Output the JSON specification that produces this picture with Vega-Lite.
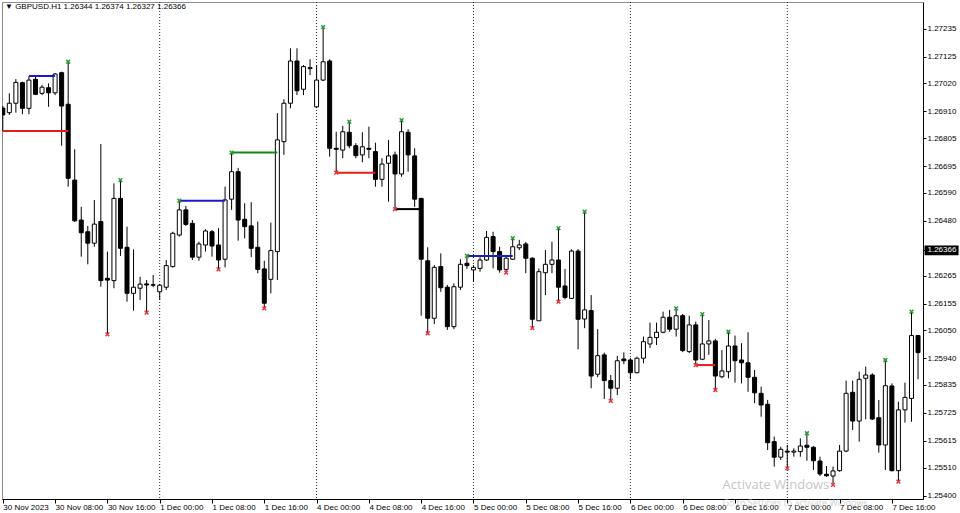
{
  "$schema": "https://vega.github.io/schema/vega-lite/v6.json",
  "width": 921,
  "height": 497,
  "autosize": {"type": "none"},
  "padding": {"left": 2, "top": 2, "right": 37, "bottom": 14},
  "background": "white",
  "config": {
    "view": {"stroke": "#8c8c8c", "strokeWidth": 1},
    "font": "Liberation Sans",
    "axis": {"labelOverlap": false, "labelFlush": false, "labelSeparation": 0},
    "scale": {"continuousPadding": 0}
  },
  "title": {
    "text": "▼ GBPUSD.H1  1.26344 1.26374 1.26327 1.26366",
    "anchor": "start",
    "frame": "group",
    "orient": "top",
    "offset": 0,
    "dx": 3,
    "dy": 9,
    "font": "Liberation Sans",
    "fontSize": 8,
    "fontWeight": "normal",
    "color": "black"
  },
  "datasets": {
    "candles": [
      {"i":0,"o":1.26923,"h":1.26931,"l":1.26833,"c":1.26896},
      {"i":1,"o":1.26905,"h":1.26981,"l":1.26896,"c":1.26942},
      {"i":2,"o":1.26942,"h":1.27037,"l":1.26905,"c":1.27024},
      {"i":3,"o":1.27023,"h":1.27027,"l":1.26899,"c":1.26922},
      {"i":4,"o":1.26922,"h":1.27049,"l":1.26899,"c":1.27033},
      {"i":5,"o":1.27036,"h":1.27049,"l":1.26974,"c":1.26977},
      {"i":6,"o":1.26981,"h":1.27014,"l":1.26974,"c":1.27005},
      {"i":7,"o":1.27003,"h":1.27020,"l":1.26928,"c":1.26983},
      {"i":8,"o":1.26983,"h":1.27061,"l":1.26974,"c":1.27057},
      {"i":9,"o":1.27062,"h":1.27066,"l":1.26775,"c":1.26931},
      {"i":10,"o":1.26938,"h":1.27105,"l":1.26614,"c":1.26647},
      {"i":11,"o":1.26640,"h":1.26761,"l":1.26475,"c":1.26480},
      {"i":12,"o":1.26483,"h":1.26535,"l":1.26339,"c":1.26433},
      {"i":13,"o":1.26437,"h":1.26460,"l":1.26309,"c":1.26392},
      {"i":14,"o":1.26392,"h":1.26562,"l":1.26378,"c":1.26467},
      {"i":15,"o":1.26477,"h":1.26782,"l":1.26221,"c":1.26245},
      {"i":16,"o":1.26254,"h":1.26359,"l":1.26034,"c":1.26247},
      {"i":17,"o":1.26245,"h":1.26627,"l":1.26215,"c":1.26568},
      {"i":18,"o":1.26568,"h":1.26640,"l":1.26342,"c":1.26372},
      {"i":19,"o":1.26376,"h":1.26457,"l":1.26162,"c":1.26195},
      {"i":20,"o":1.26195,"h":1.26368,"l":1.26127,"c":1.26219},
      {"i":21,"o":1.26215,"h":1.26260,"l":1.26169,"c":1.26231},
      {"i":22,"o":1.26232,"h":1.26247,"l":1.26119,"c":1.26228},
      {"i":23,"o":1.26229,"h":1.26267,"l":1.26219,"c":1.26227},
      {"i":24,"o":1.26201,"h":1.26232,"l":1.26169,"c":1.26227},
      {"i":25,"o":1.26219,"h":1.26326,"l":1.26208,"c":1.26304},
      {"i":26,"o":1.26300,"h":1.26437,"l":1.26297,"c":1.26431},
      {"i":27,"o":1.26424,"h":1.26559,"l":1.26418,"c":1.26523},
      {"i":28,"o":1.26523,"h":1.26538,"l":1.26460,"c":1.26466},
      {"i":29,"o":1.26470,"h":1.26483,"l":1.26326,"c":1.26337},
      {"i":30,"o":1.26337,"h":1.26398,"l":1.26323,"c":1.26389},
      {"i":31,"o":1.26385,"h":1.26447,"l":1.26359,"c":1.26440},
      {"i":32,"o":1.26437,"h":1.26444,"l":1.26339,"c":1.26381},
      {"i":33,"o":1.26385,"h":1.26451,"l":1.26289,"c":1.26326},
      {"i":34,"o":1.26329,"h":1.26614,"l":1.26297,"c":1.26562},
      {"i":35,"o":1.26565,"h":1.26748,"l":1.26523,"c":1.26673},
      {"i":36,"o":1.26673,"h":1.26688,"l":1.26402,"c":1.26483},
      {"i":37,"o":1.26486,"h":1.26549,"l":1.26411,"c":1.26457},
      {"i":38,"o":1.26460,"h":1.26553,"l":1.26337,"c":1.26372},
      {"i":39,"o":1.26376,"h":1.26477,"l":1.26274,"c":1.26289},
      {"i":40,"o":1.26291,"h":1.26323,"l":1.26136,"c":1.26156},
      {"i":41,"o":1.26250,"h":1.26473,"l":1.26195,"c":1.26363},
      {"i":42,"o":1.26359,"h":1.26903,"l":1.26247,"c":1.26798},
      {"i":43,"o":1.26791,"h":1.26958,"l":1.26739,"c":1.26942},
      {"i":44,"o":1.26942,"h":1.27158,"l":1.26922,"c":1.27108},
      {"i":45,"o":1.27108,"h":1.27158,"l":1.26974,"c":1.26991},
      {"i":46,"o":1.26997,"h":1.27092,"l":1.26974,"c":1.27086},
      {"i":47,"o":1.27078,"h":1.27115,"l":1.27053,"c":1.27082},
      {"i":48,"o":1.26928,"h":1.27092,"l":1.26923,"c":1.27033},
      {"i":49,"o":1.27033,"h":1.27238,"l":1.27029,"c":1.27105},
      {"i":50,"o":1.27108,"h":1.27115,"l":1.26732,"c":1.26765},
      {"i":51,"o":1.26765,"h":1.26830,"l":1.26669,"c":1.26761},
      {"i":52,"o":1.26758,"h":1.26853,"l":1.26726,"c":1.26830},
      {"i":53,"o":1.26828,"h":1.26870,"l":1.26765,"c":1.26775},
      {"i":54,"o":1.26775,"h":1.26785,"l":1.26726,"c":1.26736},
      {"i":55,"o":1.26739,"h":1.26828,"l":1.26710,"c":1.26771},
      {"i":56,"o":1.26765,"h":1.26850,"l":1.26726,"c":1.26761},
      {"i":57,"o":1.26752,"h":1.26787,"l":1.26614,"c":1.26643},
      {"i":58,"o":1.26643,"h":1.26726,"l":1.26614,"c":1.26703},
      {"i":59,"o":1.26706,"h":1.26798,"l":1.26555,"c":1.26735},
      {"i":60,"o":1.26739,"h":1.26752,"l":1.26526,"c":1.26664},
      {"i":61,"o":1.26664,"h":1.26876,"l":1.26653,"c":1.26830},
      {"i":62,"o":1.26828,"h":1.26840,"l":1.26673,"c":1.26739},
      {"i":63,"o":1.26735,"h":1.26765,"l":1.26535,"c":1.26565},
      {"i":64,"o":1.26568,"h":1.26570,"l":1.26107,"c":1.26329},
      {"i":65,"o":1.26323,"h":1.26376,"l":1.26038,"c":1.26097},
      {"i":66,"o":1.26097,"h":1.26306,"l":1.26074,"c":1.26297},
      {"i":67,"o":1.26300,"h":1.26352,"l":1.26201,"c":1.26217},
      {"i":68,"o":1.26219,"h":1.26228,"l":1.26051,"c":1.26064},
      {"i":69,"o":1.26064,"h":1.26234,"l":1.26054,"c":1.26221},
      {"i":70,"o":1.26219,"h":1.26329,"l":1.26208,"c":1.26309},
      {"i":71,"o":1.26313,"h":1.26342,"l":1.26291,"c":1.26304},
      {"i":72,"o":1.26287,"h":1.26306,"l":1.26241,"c":1.26297},
      {"i":73,"o":1.26293,"h":1.26337,"l":1.26280,"c":1.26326},
      {"i":74,"o":1.26326,"h":1.26440,"l":1.26322,"c":1.26415},
      {"i":75,"o":1.26418,"h":1.26437,"l":1.26293,"c":1.26359},
      {"i":76,"o":1.26359,"h":1.26378,"l":1.26276,"c":1.26287},
      {"i":77,"o":1.26289,"h":1.26346,"l":1.26276,"c":1.26333},
      {"i":78,"o":1.26329,"h":1.26412,"l":1.26326,"c":1.26378},
      {"i":79,"o":1.26374,"h":1.26405,"l":1.26365,"c":1.26385},
      {"i":80,"o":1.26389,"h":1.26397,"l":1.26274,"c":1.26333},
      {"i":81,"o":1.26333,"h":1.26337,"l":1.26058,"c":1.26093},
      {"i":82,"o":1.26087,"h":1.26293,"l":1.26086,"c":1.26280},
      {"i":83,"o":1.26276,"h":1.26365,"l":1.26188,"c":1.26309},
      {"i":84,"o":1.26309,"h":1.26398,"l":1.26274,"c":1.26326},
      {"i":85,"o":1.26326,"h":1.26451,"l":1.26162,"c":1.26219},
      {"i":86,"o":1.26224,"h":1.26291,"l":1.26172,"c":1.26179},
      {"i":87,"o":1.26175,"h":1.26368,"l":1.26173,"c":1.26361},
      {"i":88,"o":1.26361,"h":1.26369,"l":1.25975,"c":1.26093},
      {"i":89,"o":1.26094,"h":1.26516,"l":1.26058,"c":1.26130},
      {"i":90,"o":1.26127,"h":1.26188,"l":1.25822,"c":1.25870},
      {"i":91,"o":1.25877,"h":1.26054,"l":1.25865,"c":1.25950},
      {"i":92,"o":1.25953,"h":1.25962,"l":1.25780,"c":1.25852},
      {"i":93,"o":1.25852,"h":1.25874,"l":1.25772,"c":1.25822},
      {"i":94,"o":1.25822,"h":1.25949,"l":1.25795,"c":1.25930},
      {"i":95,"o":1.25937,"h":1.25963,"l":1.25917,"c":1.25930},
      {"i":96,"o":1.25933,"h":1.25941,"l":1.25857,"c":1.25883},
      {"i":97,"o":1.25883,"h":1.25946,"l":1.25881,"c":1.25940},
      {"i":98,"o":1.25940,"h":1.26025,"l":1.25920,"c":1.26005},
      {"i":99,"o":1.25996,"h":1.26080,"l":1.25980,"c":1.26022},
      {"i":100,"o":1.26021,"h":1.26080,"l":1.25992,"c":1.26042},
      {"i":101,"o":1.26042,"h":1.26123,"l":1.26038,"c":1.26101},
      {"i":102,"o":1.26101,"h":1.26130,"l":1.26044,"c":1.26054},
      {"i":103,"o":1.26054,"h":1.26136,"l":1.26025,"c":1.26107},
      {"i":104,"o":1.26107,"h":1.26114,"l":1.25964,"c":1.25970},
      {"i":105,"o":1.25966,"h":1.26107,"l":1.25960,"c":1.26071},
      {"i":106,"o":1.26071,"h":1.26084,"l":1.25913,"c":1.25933},
      {"i":107,"o":1.25936,"h":1.26113,"l":1.25933,"c":1.25996},
      {"i":108,"o":1.25996,"h":1.26090,"l":1.25953,"c":1.26008},
      {"i":109,"o":1.26008,"h":1.26016,"l":1.25815,"c":1.25870},
      {"i":110,"o":1.25867,"h":1.25972,"l":1.25861,"c":1.25890},
      {"i":111,"o":1.25887,"h":1.26044,"l":1.25861,"c":1.25988},
      {"i":112,"o":1.25988,"h":1.26029,"l":1.25844,"c":1.25930},
      {"i":113,"o":1.25933,"h":1.25999,"l":1.25841,"c":1.25922},
      {"i":114,"o":1.25922,"h":1.26042,"l":1.25808,"c":1.25865},
      {"i":115,"o":1.25865,"h":1.25894,"l":1.25763,"c":1.25804},
      {"i":116,"o":1.25802,"h":1.25828,"l":1.25710,"c":1.25756},
      {"i":117,"o":1.25759,"h":1.25776,"l":1.25579,"c":1.25608},
      {"i":118,"o":1.25612,"h":1.25632,"l":1.25514,"c":1.25551},
      {"i":119,"o":1.25551,"h":1.25592,"l":1.25540,"c":1.25582},
      {"i":120,"o":1.25575,"h":1.25599,"l":1.25507,"c":1.25571},
      {"i":121,"o":1.25571,"h":1.25586,"l":1.25553,"c":1.25575},
      {"i":122,"o":1.25573,"h":1.25625,"l":1.25553,"c":1.25595},
      {"i":123,"o":1.25598,"h":1.25645,"l":1.25537,"c":1.25590},
      {"i":124,"o":1.25590,"h":1.25595,"l":1.25501,"c":1.25537},
      {"i":125,"o":1.25536,"h":1.25553,"l":1.25477,"c":1.25485},
      {"i":126,"o":1.25484,"h":1.25516,"l":1.25474,"c":1.25478},
      {"i":127,"o":1.25477,"h":1.25514,"l":1.25442,"c":1.25497},
      {"i":128,"o":1.25498,"h":1.25599,"l":1.25494,"c":1.25575},
      {"i":129,"o":1.25575,"h":1.25852,"l":1.25571,"c":1.25802},
      {"i":130,"o":1.25806,"h":1.25852,"l":1.25658,"c":1.25693},
      {"i":131,"o":1.25693,"h":1.25887,"l":1.25612,"c":1.25857},
      {"i":132,"o":1.25861,"h":1.25907,"l":1.25700,"c":1.25874},
      {"i":133,"o":1.25874,"h":1.25881,"l":1.25697,"c":1.25701},
      {"i":134,"o":1.25706,"h":1.25776,"l":1.25569,"c":1.25599},
      {"i":135,"o":1.25599,"h":1.25933,"l":1.25501,"c":1.25832},
      {"i":136,"o":1.25831,"h":1.25841,"l":1.25495,"c":1.25498},
      {"i":137,"o":1.25498,"h":1.25769,"l":1.25455,"c":1.25737},
      {"i":138,"o":1.25737,"h":1.25844,"l":1.25687,"c":1.25786},
      {"i":139,"o":1.25782,"h":1.26123,"l":1.25690,"c":1.26029},
      {"i":140,"o":1.26029,"h":1.26031,"l":1.25857,"c":1.25962}
    ],
    "fractals": [
      {"i":10,"p":1.27105,"kind":"up"},
      {"i":18,"p":1.26640,"kind":"up"},
      {"i":27,"p":1.26559,"kind":"up"},
      {"i":35,"p":1.26748,"kind":"up"},
      {"i":49,"p":1.27241,"kind":"up"},
      {"i":53,"p":1.26870,"kind":"up"},
      {"i":61,"p":1.26876,"kind":"up"},
      {"i":71,"p":1.26342,"kind":"up"},
      {"i":78,"p":1.26412,"kind":"up"},
      {"i":85,"p":1.26451,"kind":"up"},
      {"i":89,"p":1.26516,"kind":"up"},
      {"i":103,"p":1.26136,"kind":"up"},
      {"i":107,"p":1.26113,"kind":"up"},
      {"i":111,"p":1.26044,"kind":"up"},
      {"i":123,"p":1.25645,"kind":"up"},
      {"i":135,"p":1.25933,"kind":"up"},
      {"i":139,"p":1.26123,"kind":"up"},
      {"i":16,"p":1.26034,"kind":"down"},
      {"i":22,"p":1.26119,"kind":"down"},
      {"i":33,"p":1.26289,"kind":"down"},
      {"i":40,"p":1.26136,"kind":"down"},
      {"i":51,"p":1.26669,"kind":"down"},
      {"i":60,"p":1.26526,"kind":"down"},
      {"i":65,"p":1.26038,"kind":"down"},
      {"i":77,"p":1.26276,"kind":"down"},
      {"i":81,"p":1.26058,"kind":"down"},
      {"i":85,"p":1.26162,"kind":"down"},
      {"i":93,"p":1.25772,"kind":"down"},
      {"i":106,"p":1.25913,"kind":"down"},
      {"i":109,"p":1.25815,"kind":"down"},
      {"i":120,"p":1.25507,"kind":"down"},
      {"i":127,"p":1.25442,"kind":"down"},
      {"i":137,"p":1.25455,"kind":"down"}
    ],
    "levels": [
      {"i1":0,"i2":10,"p":1.26833,"kind":"red"},
      {"i1":4,"i2":8,"p":1.27049,"kind":"blue"},
      {"i1":27,"i2":34,"p":1.26559,"kind":"blue"},
      {"i1":35,"i2":42,"p":1.26748,"kind":"green"},
      {"i1":51,"i2":57,"p":1.26669,"kind":"red"},
      {"i1":60,"i2":64,"p":1.26526,"kind":"black"},
      {"i1":71,"i2":78,"p":1.26342,"kind":"blue"},
      {"i1":106,"i2":109,"p":1.25913,"kind":"red"}
    ],
    "days": [
      {"i":24,"day":"1 Dec"},
      {"i":48,"day":"4 Dec"},
      {"i":72,"day":"5 Dec"},
      {"i":96,"day":"6 Dec"},
      {"i":120,"day":"7 Dec"}
    ],
    "current": [{"p":1.26366}],
    "watermark": [
      {"line":"Activate Windows","size":"big"},
      {"line":"Go to Settings to activate Windows.","size":"small"}
    ]
  },
  "layer": [
    {
      "data": {"name": "days"},
      "mark": {"type": "rule", "color": "#2a2a2a", "strokeWidth": 1, "strokeDash": [1, 2]},
      "encoding": {
        "x": {"field": "i", "type": "quantitative", "scale": {"domain": [-0.122, 140.76], "nice": false, "zero": false, "padding": 0}}
      }
    },
    {
      "data": {"name": "candles"},
      "mark": {"type": "rule", "color": "black", "strokeWidth": 1, "clip": true},
      "encoding": {
        "x": {
          "field": "i", "type": "quantitative",
          "scale": {"domain": [-0.122, 140.76], "nice": false, "zero": false, "padding": 0},
          "axis": {
            "title": null, "grid": false, "tickCount": 40,
            "values": [0, 8, 16, 24, 32, 40, 48, 56, 64, 72, 80, 88, 96, 104, 112, 120, 128, 136],
            "labelExpr": "['30 Nov 2023','30 Nov 08:00','30 Nov 16:00','1 Dec 00:00','1 Dec 08:00','1 Dec 16:00','4 Dec 00:00','4 Dec 08:00','4 Dec 16:00','5 Dec 00:00','5 Dec 08:00','5 Dec 16:00','6 Dec 00:00','6 Dec 08:00','6 Dec 16:00','7 Dec 00:00','7 Dec 08:00','7 Dec 16:00'][round(datum.value/8)]",
            "domainColor": "black", "tickColor": "black", "tickSize": 4,
            "labelAlign": "left", "labelBaseline": "top", "labelPadding": 0, "labelDx": 1,
            "labelFont": "Liberation Sans", "labelFontSize": 8, "labelColor": "black",
            "labelOverlap": false, "labelFlush": false
          }
        },
        "y": {
          "field": "l", "type": "quantitative",
          "scale": {"domain": [1.253867, 1.273399], "nice": false, "zero": false, "padding": 0},
          "axis": {
            "orient": "right", "title": null, "grid": false, "tickCount": 40,
            "values": [1.27235, 1.27125, 1.2702, 1.2691, 1.26805, 1.26695, 1.2659, 1.2648, 1.26366, 1.26265, 1.26155, 1.2605, 1.2594, 1.25835, 1.25725, 1.25615, 1.2551, 1.254],
            "format": ".5f",
            "domainColor": "black", "tickColor": "black", "tickSize": 3,
            "labelAlign": "left", "labelPadding": 1,
            "labelFont": "Liberation Sans", "labelFontSize": 8,
            "labelColor": {"condition": {"test": "datum.value == 1.26366", "value": "white"}, "value": "black"},
            "labelOverlap": false, "labelFlush": false, "zindex": 1
          }
        },
        "y2": {"field": "h"}
      }
    },
    {
      "data": {"name": "candles"},
      "mark": {"type": "bar", "width": 4, "stroke": "black", "strokeWidth": 1, "clip": true},
      "encoding": {
        "x": {"field": "i", "type": "quantitative", "scale": {"domain": [-0.122, 140.76], "nice": false, "zero": false, "padding": 0}},
        "y": {"field": "o", "type": "quantitative", "scale": {"domain": [1.253867, 1.273399], "nice": false, "zero": false, "padding": 0}},
        "y2": {"field": "c"},
        "fill": {"condition": {"test": "datum.c >= datum.o", "value": "white"}, "value": "black"}
      }
    },
    {
      "data": {"name": "levels"},
      "mark": {"type": "rule", "strokeWidth": 2},
      "encoding": {
        "x": {"field": "i1", "type": "quantitative", "scale": {"domain": [-0.122, 140.76], "nice": false, "zero": false, "padding": 0}},
        "x2": {"field": "i2"},
        "y": {"field": "p", "type": "quantitative", "scale": {"domain": [1.253867, 1.273399], "nice": false, "zero": false, "padding": 0}},
        "color": {
          "field": "kind", "type": "nominal", "legend": null,
          "scale": {"domain": ["red", "blue", "green", "black", "up", "down"], "range": ["#e41c1c", "#1c1cc4", "#17861a", "#000000", "#2f9b34", "#e8383d"]}
        }
      }
    },
    {
      "data": {"name": "fractals"},
      "mark": {"type": "point", "shape": "M-1,-1L1,1M1,-1L-1,1", "size": 14, "strokeWidth": 1.5, "filled": false, "opacity": 1},
      "encoding": {
        "x": {"field": "i", "type": "quantitative", "scale": {"domain": [-0.122, 140.76], "nice": false, "zero": false, "padding": 0}},
        "y": {"field": "p", "type": "quantitative", "scale": {"domain": [1.253867, 1.273399], "nice": false, "zero": false, "padding": 0}},
        "color": {
          "field": "kind", "type": "nominal", "legend": null,
          "scale": {"domain": ["red", "blue", "green", "black", "up", "down"], "range": ["#e41c1c", "#1c1cc4", "#17861a", "#000000", "#2f9b34", "#e8383d"]}
        }
      }
    },
    {
      "data": {"name": "current"},
      "mark": {"type": "rect", "color": "black"},
      "encoding": {
        "x": {"datum": 141.0, "type": "quantitative"},
        "x2": {"datum": 146.2},
        "y": {"datum": 1.26383, "type": "quantitative"},
        "y2": {"datum": 1.26345}
      }
    },
    {
      "data": {"name": "watermark"},
      "transform": [{"filter": "datum.size == 'big'"}],
      "mark": {"type": "text", "align": "left", "baseline": "alphabetic", "font": "Open Sans", "fontSize": 13, "color": "#b4b4b4", "opacity": 0.75},
      "encoding": {
        "x": {"datum": 110.1, "type": "quantitative"},
        "y": {"datum": 1.25426, "type": "quantitative"},
        "text": {"field": "line"}
      }
    },
    {
      "data": {"name": "watermark"},
      "transform": [{"filter": "datum.size == 'small'"}],
      "mark": {"type": "text", "align": "left", "baseline": "alphabetic", "font": "Open Sans", "fontSize": 9, "color": "#b4b4b4", "opacity": 0.6},
      "encoding": {
        "x": {"datum": 110.1, "type": "quantitative"},
        "y": {"datum": 1.25358, "type": "quantitative"},
        "text": {"field": "line"}
      }
    }
  ]
}
